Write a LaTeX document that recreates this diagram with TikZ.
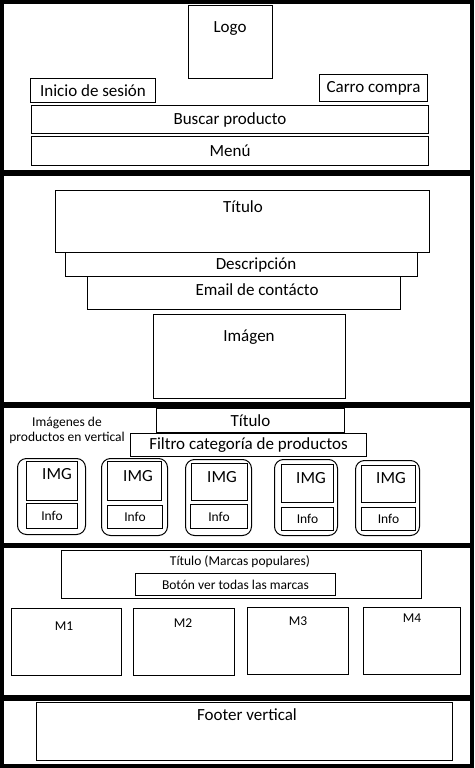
\documentclass[tikz,border=0pt]{standalone}
\usepackage{fontspec}
\setmainfont{Carlito}
\usetikzlibrary{positioning}
\newcommand{\wfbig}{\fontsize{17}{20}\selectfont}
\newcommand{\wfsmall}{\fontsize{13.5}{15}\selectfont}

\begin{document}
\begin{tikzpicture}[
    x=1pt, y=-1pt,
    section/.style={fill=white, inner sep=0pt, anchor=north west},
    wbox/.style={draw=black, line width=1pt, fill=white, inner sep=0pt, anchor=north west, font=\wfbig},
    sbox/.style={wbox, font=\wfsmall},
    cardbox/.style={wbox, rounded corners=9pt},
    bigtxt/.style={inner sep=0pt, font=\wfbig},
    smalltxt/.style={inner sep=0pt, font=\wfsmall, align=center},
]
    % page background and the five sections
    \fill[black] (0,0) rectangle (474,768);
    \node[section, minimum width=466, minimum height=166] (header) at (4,4) {};
    \node[section, minimum width=466, minimum height=226] (hero) at (4,176) {};
    \node[section, minimum width=466, minimum height=135] (products) at (4,408) {};
    \node[section, minimum width=466, minimum height=147] (brands) at (4,548) {};
    \node[section, minimum width=466, minimum height=63] (footer) at (4,701) {};

    % header
    \node[wbox, minimum width=84, minimum height=73] (logo) at (188,5) {};
    \node[bigtxt] (logotxt) at (230,29) {Logo};
    \node[wbox, minimum width=125, minimum height=24] (login) at (30,78) {Inicio de sesión};
    \node[wbox, minimum width=108, minimum height=27] (cart) at (319,74) {Carro compra};
    \node[wbox, minimum width=397, minimum height=28] (search) at (31,105) {Buscar producto};
    \node[wbox, minimum width=397, minimum height=29] (menu) at (31,136) {Menú};

    % hero
    \node[wbox, minimum width=374, minimum height=62] (herotitle) at (55,190) {};
    \node[bigtxt] (herotitletxt) at (243,207) {Título};
    \node[wbox, minimum width=352, minimum height=24] (desc) at (65,252) {};
    \node[bigtxt] (desctxt) at (256,265) {Descripción};
    \node[wbox, minimum width=313, minimum height=33] (email) at (87,276) {};
    \node[bigtxt] (emailtxt) at (257,290) {Email de contácto};
    \node[wbox, minimum width=192, minimum height=84] (heroimg) at (153,314) {};
    \node[bigtxt] (heroimgtxt) at (249,337) {Imágen};

    % products
    \node[smalltxt] (prodnote) at (67,430) {Imágenes de\\productos en vertical};
    \node[wbox, minimum width=188, minimum height=24] (prodtitle) at (156,408) {Título};
    \node[wbox, minimum width=236, minimum height=23] (filter) at (130,433) {Filtro categoría de productos};

    \node[cardbox, minimum width=68, minimum height=76] (card1) at (17,458) {};
    \node[wbox, minimum width=51, minimum height=39] (img1) at (26,461) {};
    \node[bigtxt] (imgtxt1) at (57,474) {IMG};
    \node[sbox, minimum width=51, minimum height=25] (info1) at (26,503) {Info};

    \node[cardbox, minimum width=66, minimum height=77] (card2) at (101,458) {};
    \node[wbox, minimum width=54, minimum height=39] (img2) at (107,461) {};
    \node[bigtxt] (imgtxt2) at (138,476) {IMG};
    \node[sbox, minimum width=55, minimum height=23] (info2) at (107,505) {Info};

    \node[cardbox, minimum width=66, minimum height=76] (card3) at (185,459) {};
    \node[wbox, minimum width=56, minimum height=37] (img3) at (191,463) {};
    \node[bigtxt] (imgtxt3) at (222,477) {IMG};
    \node[sbox, minimum width=57, minimum height=24] (info3) at (190,504) {Info};

    \node[cardbox, minimum width=63, minimum height=76] (card4) at (274,459) {};
    \node[wbox, minimum width=52, minimum height=38] (img4) at (281,464) {};
    \node[bigtxt] (imgtxt4) at (311,478) {IMG};
    \node[sbox, minimum width=52, minimum height=23] (info4) at (281,507) {Info};

    \node[cardbox, minimum width=64, minimum height=75] (card5) at (355,460) {};
    \node[wbox, minimum width=54, minimum height=37] (img5) at (361,465) {};
    \node[bigtxt] (imgtxt5) at (391,478) {IMG};
    \node[sbox, minimum width=54, minimum height=23] (info5) at (361,507) {Info};

    % brands
    \node[wbox, minimum width=360, minimum height=48] (brandtitle) at (61,550) {};
    \node[smalltxt] (brandtitletxt) at (240,562) {Título (Marcas populares)};
    \node[sbox, minimum width=200, minimum height=22] (allbrands) at (135,573) {Botón ver todas las marcas};
    \node[wbox, minimum width=110, minimum height=67] (m1) at (11,608) {};
    \node[smalltxt] (m1txt) at (64,626) {M1};
    \node[wbox, minimum width=101, minimum height=67] (m2) at (133,608) {};
    \node[smalltxt] (m2txt) at (183,623) {M2};
    \node[wbox, minimum width=101, minimum height=67] (m3) at (247,607) {};
    \node[smalltxt] (m3txt) at (298,621) {M3};
    \node[wbox, minimum width=97, minimum height=67] (m4) at (363,607) {};
    \node[smalltxt] (m4txt) at (412,618) {M4};

    % footer
    \node[wbox, minimum width=416, minimum height=58] (footerbox) at (36,702) {};
    \node[bigtxt] (footertxt) at (247,715) {Footer vertical};
\end{tikzpicture}
\end{document}
